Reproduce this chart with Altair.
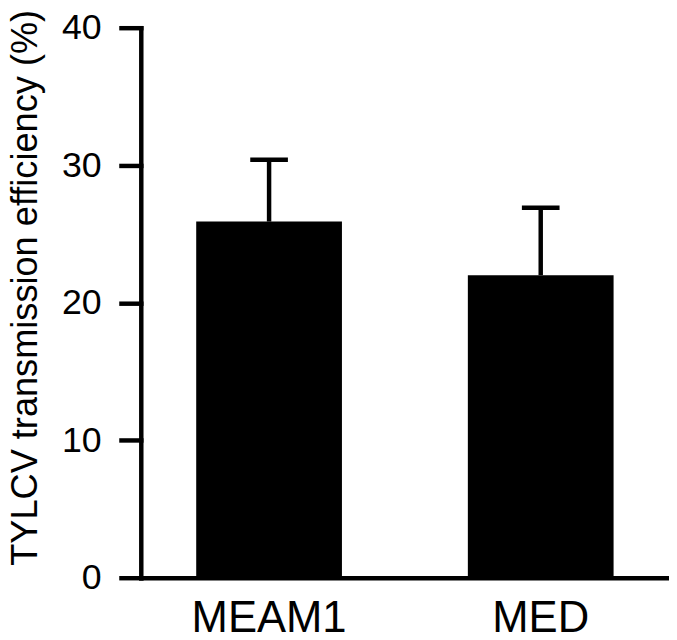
import altair as alt
import pandas as pd

categories = ["MEAM1", "MED"]
values = [25.9, 22.0]
errors = [4.5, 4.9]

df = pd.DataFrame({
    "group": categories,
    "value": values,
    "upper": [v + e for v, e in zip(values, errors)],
})

FONT = "Liberation Sans"
LW = 4.5

x_enc = alt.X(
    "group:N",
    sort=categories,
    scale=alt.Scale(paddingInner=0.4635, paddingOuter=0.204),
    axis=alt.Axis(
        title=None,
        labelAngle=0,
        labelFont=FONT,
        labelFontSize=44,
        labelColor="black",
        labelBaseline="alphabetic",
        labelPadding=54,
        ticks=False,
        tickSize=0,
        domainColor="black",
        domainWidth=LW,
        domainCap="square",
    ),
)

y_scale = alt.Scale(domain=[0, 40], nice=False)
y_axis = alt.Axis(
    title="TYLCV transmission efficiency (%)",
    values=[0, 10, 20, 30, 40],
    grid=False,
    labelFont=FONT,
    labelFontSize=36,
    labelColor="black",
    labelPadding=20,
    tickSize=20,
    tickWidth=LW,
    tickColor="black",
    tickCap="square",
    domainColor="black",
    domainWidth=LW,
    domainCap="square",
    titleFont=FONT,
    titleFontSize=36.5,
    titleFontWeight="normal",
    titleColor="black",
    titleBaseline="alphabetic",
    titleAngle=-90,
    titleAlign="center",
    titleX=-105,
    titleY=262,
)

bars = alt.Chart(df).mark_bar(color="black").encode(
    x=x_enc,
    y=alt.Y("value:Q", scale=y_scale, axis=y_axis),
)

stems = alt.Chart(df).mark_rule(color="black", strokeWidth=LW).encode(
    x=alt.X("group:N", sort=categories),
    y=alt.Y("value:Q", scale=y_scale),
    y2="upper:Q",
)

caps = alt.Chart(df).mark_tick(color="black", thickness=LW, size=38, opacity=1).encode(
    x=alt.X("group:N", sort=categories),
    y=alt.Y("upper:Q", scale=y_scale),
)

chart = (bars + stems + caps).properties(
    width=533,
    height=555,
    autosize=alt.AutoSizeParams(type="none"),
    padding={"left": 134, "top": 17, "right": 0, "bottom": 62},
).configure_view(stroke=None)

chart.save("out.html", embed_options={"renderer": "svg", "actions": False})
